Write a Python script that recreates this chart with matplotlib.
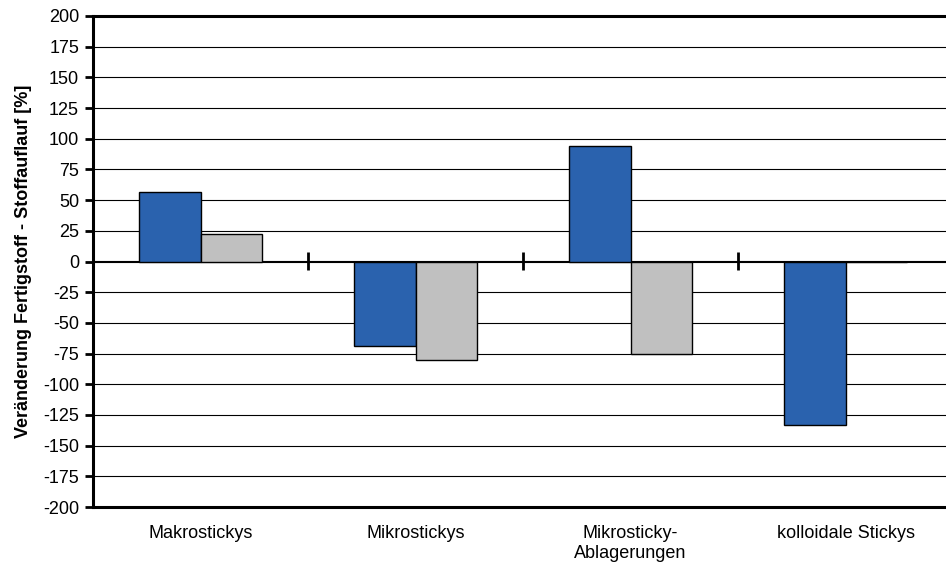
import matplotlib
matplotlib.use("Agg")
import matplotlib.pyplot as plt
import numpy as np

plt.rcParams['font.family'] = ['Liberation Sans', 'DejaVu Sans']

categories = ["Makrostickys", "Mikrostickys", "Mikrosticky-\nAblagerungen", "kolloidale Stickys"]
series_blue = [57, -69, 94, -133]
series_gray = [22, -80, -75, 0]
yticks = list(range(-200, 201, 25))

blue = "#2A62AE"
gray = "#C0C0C0"

fig = plt.figure(figsize=(9.46, 5.66), dpi=100)
ax = fig.add_axes([93 / 946, 59 / 566, 860 / 946, 491 / 566])

centers = np.arange(len(categories)) + 0.5
w = 0.284
ax.bar(centers - w / 2, series_blue, width=w, color=blue, edgecolor="black", linewidth=1.0, zorder=3)
ax.bar(centers + w / 2, series_gray, width=w, color=gray, edgecolor="black", linewidth=1.0, zorder=3)

ax.set_xlim(0, len(categories))
ax.set_ylim(-200, 200)
ax.set_yticks(yticks)
ax.set_yticklabels([str(v) for v in yticks])
ax.yaxis.grid(True, color="black", linewidth=0.8, zorder=0)
ax.set_axisbelow(True)

ax.set_xticks(centers)
ax.set_xticklabels(categories, fontsize=13, linespacing=1.2, va="top")
ax.tick_params(axis="x", length=0, pad=13)
ax.tick_params(axis="y", direction="out", length=6, width=2, labelsize=13, pad=4)

for side in ["left", "bottom", "top"]:
    ax.spines[side].set_linewidth(2.2)
ax.spines["right"].set_visible(False)

# category separators on the zero line
zero_axis = ax.secondary_xaxis(0.5)
zero_axis.set_xticks(np.arange(1, len(categories)))
zero_axis.set_xticklabels([])
zero_axis.tick_params(direction="inout", length=13, width=2)
zero_axis.spines["bottom"].set_linewidth(2.2)

ax.set_ylabel("Veränderung Fertigstoff - Stoffauflauf [%]", fontsize=13, fontweight="bold")
ax.yaxis.set_label_coords(-(93 - 32) / 860, 0.5)

fig.savefig("out.png", dpi=100)
